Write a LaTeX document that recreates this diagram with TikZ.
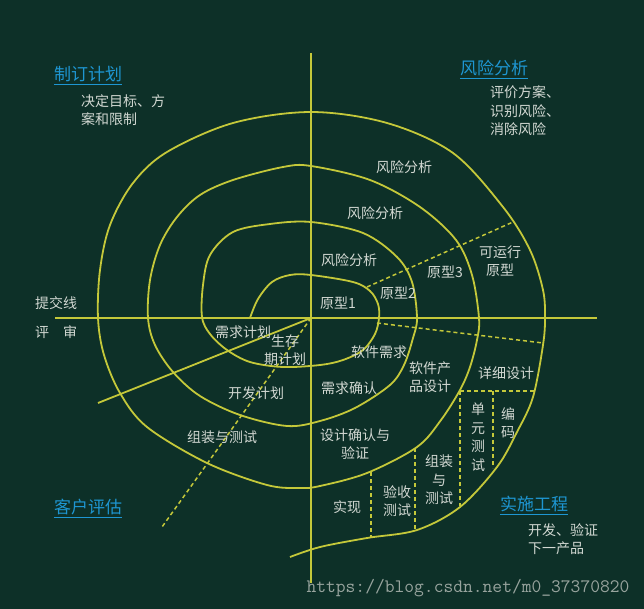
\documentclass[tikz,border=0pt]{standalone}
\usepackage{fontspec}
\setmainfont{Noto Sans CJK SC}
\definecolor{hgrund}{HTML}{0D3028}
\definecolor{linie}{HTML}{C4C83A}
\definecolor{schrift}{HTML}{D2D8D2}
\definecolor{blau}{HTML}{1E96D2}
\definecolor{grau}{HTML}{98A49E}
\begin{document}
\begin{tikzpicture}[x=1pt, y=-1pt,
  spirale/.style={draw=linie, line width=1.8pt},
  trenn/.style={draw=linie, line width=1.5pt, dash pattern=on 4pt off 3pt},
  txt/.style={text=schrift, font=\fontsize{14}{18.5}\selectfont, inner sep=0pt, align=center},
  titel/.style={text=blau, font=\fontsize{17}{20}\selectfont, inner sep=0pt}]
  % Hintergrund
  \fill[hgrund] (0,0) rectangle (644,609);
  \useasboundingbox (0,0) rectangle (644,609);

  % Achsen
  \coordinate (O) at (311,318);
  \draw[spirale] (311,53) -- (311,583);
  \draw[spirale] (55,318) -- (597,318);

  % Spirale
  \draw[spirale] plot[smooth, tension=0.55] coordinates {
    (250,318) (258,299) (272,282) (290,275) (311,275) (353,282) (370,291)
    (378,304) (379,318) (375,334) (363,350) (343,360) (320,365) (283,367)
    (250,362) (227,350) (210,334) (202,317) (203,285) (210,255) (233,232)
    (270,224) (311,222) (363,233) (397,257) (412,282) (417,318) (413,338)
    (404,365) (390,385) (355,408) (320,421) (287,426) (240,415) (200,396)
    (173,372) (155,345) (148,318) (150,280) (160,245) (177,217) (200,195)
    (233,180) (283,167) (311,166) (370,180) (420,207) (456,240) (472,275)
    (479,318) (477,340) (470,367) (460,390) (441,420) (417,447) (367,473)
    (320,486) (300,488) (267,485) (207,463) (147,427) (120,393) (104,355)
    (98,318) (100,270) (110,225) (133,183) (167,152) (233,123) (311,112)
    (387,123) (453,153) (503,207) (530,250) (543,290) (545,318) (543,345)
    (533,397) (517,432) (497,467) (460,507) (417,530) (367,538) (320,547)
    (290,557)};

  % Trennlinien
  \coordinate (sl) at (98,403);
  \coordinate (dl) at (162,527);
  \draw[spirale] (O) -- (sl);
  \draw[trenn] (O) -- (dl);
  \draw[trenn] (367,287) -- (513,222);
  \draw[trenn] (377,323) -- (543,343);
  \draw[trenn] (460,391) -- (536,391);
  \draw[trenn] (460,391) -- (460,506);
  \draw[trenn] (493,391) -- (493,468);
  \draw[trenn] (415,448) -- (415,530);
  \draw[trenn] (371,472) -- (371,538);

  % Quadranten
  \node[titel] (plan) at (88,74) {制订计划};
  \node[titel] (risiko) at (494,68) {风险分析};
  \node[titel] (kunde) at (88,507) {客户评估};
  \node[titel] (technik) at (534,504) {实施工程};
  \foreach \t in {plan, risiko, kunde, technik}
    \draw[blau, line width=1pt] ([yshift=-2pt]\t.south west) -- ([yshift=-2pt]\t.south east);
  \node[txt, anchor=west, align=left] (ziel) at (81,110) {决定目标、方\\案和限制};
  \node[txt, anchor=west, align=left] (bewert) at (490,111) {评价方案、\\识别风险、\\消除风险};
  \node[txt, anchor=west, align=left] (entw) at (528,539) {开发、验证\\下一产品};
  \node[txt] (abgabe) at (56,303) {提交线};
  \node[txt] (review) at (56,332) {评\quad 审};

  % Beschriftungen
  \node[txt] (ra) at (404,167) {风险分析};
  \node[txt] (rb) at (375,213) {风险分析};
  \node[txt] (rc) at (349,260) {风险分析};
  \node[txt] (pa) at (338,303) {原型1};
  \node[txt] (pb) at (398,293) {原型2};
  \node[txt] (pc) at (445,272) {原型3};
  \node[txt] (pd) at (500,261) {可运行\\原型};
  \node[txt] (bp) at (243,332) {需求计划};
  \node[txt] (lp) at (285,350) {生存\\期计划};
  \node[txt] (ep) at (256,393) {开发计划};
  \node[txt] (mt) at (222,437) {组装与测试};
  \node[txt] (sa) at (379,352) {软件需求};
  \node[txt] (ab) at (349,388) {需求确认};
  \node[txt] (pe) at (430,377) {软件产\\品设计};
  \node[txt] (dd) at (506,373) {详细设计};
  \node[txt] (dv) at (355,444) {设计确认与\\验证};
  \node[txt] (ut) at (478,437) {单\\元\\测\\试};
  \node[txt] (co) at (508,423) {编\\码};
  \node[txt] (it) at (439,480) {组装\\与\\测试};
  \node[txt] (at) at (397,501) {验收\\测试};
  \node[txt] (im) at (347,507) {实现};

  % Wasserzeichen
  \node[text=grau, font=\ttfamily\fontsize{19}{20}\selectfont, inner sep=0pt] (url) at (468,588) {https://blog.csdn.net/m0\_37370820};
\end{tikzpicture}
\end{document}
